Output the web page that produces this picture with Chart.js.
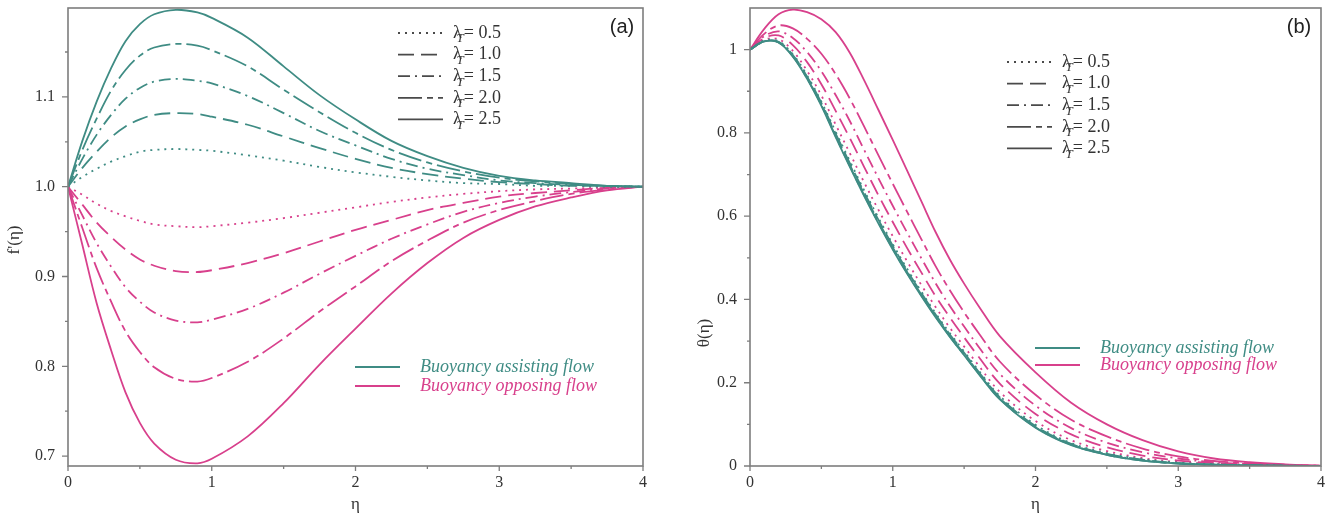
<!DOCTYPE html>
<html>
<head>
<meta charset="utf-8">
<script src="https://cdn.jsdelivr.net/npm/chart.js@4.4.1/dist/chart.umd.min.js"></script>
<style>
  html, body { margin: 0; padding: 0; background: #fff; }
  #wrap { position: relative; width: 1330px; height: 516px; }
  .panel { position: absolute; top: 0; height: 516px; }
  #pa { left: 0; width: 665px; }
  #pb { left: 680px; width: 650px; }
</style>
</head>
<body>
<div id="wrap">
  <div class="panel" id="pa"><canvas id="chartA"></canvas></div>
  <div class="panel" id="pb"><canvas id="chartB"></canvas></div>
</div>
<script>
// ---- data ----
const lambdaT = ['0.5', '1.0', '1.5', '2.0', '2.5'];
const xTicks = [0, 1, 2, 3, 4];
const yTicksA = [0.7, 0.8, 0.9, 1.0, 1.1];
const yTicksB = [0, 0.2, 0.4, 0.6, 0.8, 1];

// (a) f'(eta)
const etaA = [0, 0.1, 0.2, 0.3, 0.4, 0.5, 0.6, 0.75, 0.9, 1.0, 1.25, 1.5, 1.75, 2.0, 2.25, 2.5, 2.75, 3.0, 3.25, 3.5, 3.75, 4.0];
const fpAssist05 = [1, 1.011, 1.020, 1.028, 1.034, 1.039, 1.041, 1.042, 1.041, 1.040, 1.035, 1.029, 1.022, 1.016, 1.011, 1.007, 1.004, 1.003, 1.001, 1.001, 1.000, 1];
const fpAssist10 = [1, 1.021, 1.039, 1.055, 1.067, 1.075, 1.080, 1.082, 1.081, 1.078, 1.069, 1.056, 1.043, 1.031, 1.021, 1.014, 1.009, 1.005, 1.003, 1.001, 1.001, 1];
const fpAssist15 = [1, 1.031, 1.058, 1.080, 1.098, 1.110, 1.117, 1.120, 1.118, 1.115, 1.101, 1.082, 1.062, 1.046, 1.031, 1.020, 1.013, 1.007, 1.004, 1.002, 1.001, 1];
const fpAssist20 = [1, 1.041, 1.076, 1.107, 1.130, 1.146, 1.155, 1.159, 1.157, 1.152, 1.134, 1.108, 1.083, 1.060, 1.041, 1.027, 1.017, 1.010, 1.006, 1.003, 1.001, 1];
const fpAssist25 = [1, 1.051, 1.095, 1.132, 1.162, 1.181, 1.192, 1.197, 1.194, 1.188, 1.166, 1.134, 1.102, 1.075, 1.051, 1.034, 1.021, 1.012, 1.007, 1.004, 1.001, 1];
const fpOppose05 = [1, 0.991, 0.981, 0.973, 0.967, 0.962, 0.958, 0.956, 0.955, 0.956, 0.960, 0.965, 0.971, 0.977, 0.983, 0.988, 0.992, 0.995, 0.997, 0.998, 0.999, 1];
const fpOppose10 = [1, 0.980, 0.960, 0.944, 0.930, 0.919, 0.912, 0.906, 0.905, 0.907, 0.915, 0.926, 0.939, 0.952, 0.963, 0.974, 0.982, 0.989, 0.993, 0.996, 0.999, 1];
const fpOppose15 = [1, 0.968, 0.937, 0.911, 0.888, 0.872, 0.860, 0.851, 0.849, 0.852, 0.864, 0.882, 0.903, 0.923, 0.942, 0.958, 0.972, 0.982, 0.989, 0.994, 0.998, 1];
const fpOppose20 = [1, 0.954, 0.909, 0.872, 0.839, 0.816, 0.799, 0.786, 0.783, 0.787, 0.805, 0.831, 0.861, 0.889, 0.917, 0.940, 0.960, 0.974, 0.984, 0.992, 0.997, 1];
const fpOppose25 = [1, 0.935, 0.870, 0.818, 0.771, 0.737, 0.714, 0.696, 0.692, 0.697, 0.722, 0.759, 0.802, 0.842, 0.881, 0.915, 0.943, 0.963, 0.978, 0.988, 0.996, 1];

// (b) theta(eta)
const etaB = [0, 0.1, 0.2, 0.3, 0.4, 0.5, 0.6, 0.7, 0.8, 0.9, 1.0, 1.1, 1.2, 1.3, 1.4, 1.5, 1.6, 1.75, 2.0, 2.25, 2.5, 2.75, 3.0, 3.25, 3.5, 3.75, 4.0];
const thAssist05 = [1, 1.022, 1.020, 0.989, 0.938, 0.875, 0.803, 0.732, 0.662, 0.596, 0.533, 0.474, 0.419, 0.367, 0.319, 0.275, 0.230, 0.168, 0.099, 0.055, 0.031, 0.016, 0.008, 0.004, 0.002, 0.001, 0];
const thAssist10 = [1, 1.021, 1.019, 0.987, 0.935, 0.872, 0.798, 0.727, 0.657, 0.591, 0.529, 0.470, 0.416, 0.364, 0.316, 0.272, 0.227, 0.165, 0.096, 0.053, 0.029, 0.015, 0.007, 0.0035, 0.0018, 0.0007, 0];
const thAssist15 = [1, 1.020, 1.018, 0.985, 0.933, 0.869, 0.795, 0.723, 0.653, 0.587, 0.525, 0.466, 0.412, 0.361, 0.313, 0.269, 0.225, 0.163, 0.094, 0.052, 0.028, 0.014, 0.0065, 0.0032, 0.0016, 0.0006, 0];
const thAssist20 = [1, 1.020, 1.017, 0.984, 0.931, 0.867, 0.792, 0.720, 0.650, 0.584, 0.522, 0.464, 0.410, 0.359, 0.311, 0.267, 0.223, 0.161, 0.093, 0.051, 0.027, 0.013, 0.006, 0.003, 0.0015, 0.0005, 0];
const thAssist25 = [1, 1.020, 1.017, 0.983, 0.930, 0.865, 0.790, 0.718, 0.648, 0.582, 0.520, 0.462, 0.408, 0.357, 0.310, 0.266, 0.222, 0.160, 0.092, 0.050, 0.027, 0.013, 0.006, 0.003, 0.0015, 0.0005, 0];
const thOppose05 = [1, 1.024, 1.025, 0.997, 0.949, 0.890, 0.820, 0.751, 0.681, 0.615, 0.552, 0.492, 0.435, 0.382, 0.332, 0.287, 0.242, 0.178, 0.108, 0.062, 0.036, 0.019, 0.0095, 0.005, 0.0025, 0.001, 0.0001];
const thOppose10 = [1, 1.028, 1.034, 1.011, 0.970, 0.917, 0.853, 0.787, 0.718, 0.650, 0.586, 0.524, 0.465, 0.408, 0.357, 0.309, 0.263, 0.198, 0.125, 0.076, 0.045, 0.025, 0.013, 0.007, 0.0035, 0.0014, 0.0003];
const thOppose15 = [1, 1.032, 1.044, 1.028, 0.994, 0.948, 0.891, 0.828, 0.759, 0.691, 0.625, 0.561, 0.499, 0.439, 0.384, 0.335, 0.287, 0.221, 0.145, 0.091, 0.056, 0.033, 0.018, 0.009, 0.0045, 0.002, 0.0004];
const thOppose20 = [1, 1.038, 1.058, 1.051, 1.026, 0.990, 0.941, 0.882, 0.815, 0.746, 0.678, 0.611, 0.545, 0.480, 0.422, 0.369, 0.320, 0.251, 0.171, 0.111, 0.071, 0.042, 0.023, 0.012, 0.006, 0.0025, 0.0006];
const thOppose25 = [1, 1.050, 1.085, 1.096, 1.090, 1.073, 1.042, 0.992, 0.926, 0.855, 0.783, 0.710, 0.636, 0.562, 0.496, 0.438, 0.385, 0.312, 0.225, 0.152, 0.100, 0.062, 0.035, 0.018, 0.009, 0.004, 0.001];

// ---- styling ----
const TEAL = '#3f8c84';
const PINK = '#d8408c';
const AXIS = '#7d7d7d';
const dashFor = { '0.5': [2, 5], '1.0': [16, 7], '1.5': [12, 5, 2, 5], '2.0': [24, 5, 6, 5], '2.5': [] };
const serif = '"Liberation Serif", "DejaVu Serif", serif';

function series(eta, vals, color, lam) {
  return {
    data: eta.map((x, i) => ({ x: x, y: vals[i] })),
    borderColor: color,
    borderWidth: 1.8,
    borderDash: dashFor[lam],
    pointRadius: 0,
    fill: false,
    tension: 0.35
  };
}

function noPad(s) {
  s.paddingTop = 0; s.paddingBottom = 0; s.paddingLeft = 0; s.paddingRight = 0;
}

// frame, minor ticks, legends, titles
const decor = {
  id: 'decor',
  afterDraw(chart, args, o) {
    const { ctx, chartArea: a, scales: { x, y } } = chart;
    ctx.save();
    ctx.strokeStyle = AXIS;
    ctx.lineWidth = 1.6;
    ctx.strokeRect(a.left, a.top, a.right - a.left, a.bottom - a.top);
    ctx.lineWidth = 1.3;
    ctx.beginPath();
    o.yMajor.forEach(v => { const p = y.getPixelForValue(v); ctx.moveTo(a.left - 6, p); ctx.lineTo(a.left, p); });
    o.yMinor.forEach(v => { const p = y.getPixelForValue(v); ctx.moveTo(a.left - 3, p); ctx.lineTo(a.left, p); });
    xTicks.forEach(v => { const p = x.getPixelForValue(v); ctx.moveTo(p, a.bottom); ctx.lineTo(p, a.bottom + 5); });
    [0.5, 1.5, 2.5, 3.5].forEach(v => { const p = x.getPixelForValue(v); ctx.moveTo(p, a.bottom); ctx.lineTo(p, a.bottom + 3); });
    ctx.stroke();

    // axis titles
    ctx.fillStyle = '#333';
    ctx.textAlign = 'center';
    ctx.textBaseline = 'middle';
    ctx.font = '17px ' + serif;
    ctx.fillText('η', (a.left + a.right) / 2, 505);
    ctx.save();
    ctx.translate(o.yTitle[0], o.yTitle[1]);
    ctx.rotate(-Math.PI / 2);
    ctx.fillText(o.yTitleText, 0, 0);
    ctx.restore();

    // panel letter
    ctx.font = '20px "Liberation Sans", Arial, sans-serif';
    ctx.fillStyle = '#222';
    ctx.fillText(o.letter, o.letterPos[0], o.letterPos[1]);

    // lambda legend
    ctx.textAlign = 'left';
    lambdaT.forEach((lam, i) => {
      const ry = o.lamY + i * 21.6;
      ctx.strokeStyle = '#4a4a4a';
      ctx.lineWidth = 1.8;
      ctx.setLineDash(dashFor[lam]);
      ctx.beginPath();
      ctx.moveTo(o.lamX, ry);
      ctx.lineTo(o.lamX + 45, ry);
      ctx.stroke();
      ctx.setLineDash([]);
      const tx = o.lamX + 55;
      ctx.fillStyle = '#333';
      ctx.font = '18px ' + serif;
      ctx.fillText('λ', tx, ry);
      const lw = ctx.measureText('λ').width;
      ctx.font = 'italic 13px ' + serif;
      ctx.fillText('T', tx + lw * 0.4, ry + 6);
      ctx.font = '18px ' + serif;
      ctx.fillText('= ' + lam, tx + lw + 2, ry);
    });

    // flow legend
    [['Buoyancy assisting flow', TEAL], ['Buoyancy opposing flow', PINK]].forEach((it, i) => {
      const ry = o.flowY[i];
      ctx.strokeStyle = it[1];
      ctx.lineWidth = 1.8;
      ctx.beginPath();
      ctx.moveTo(355, ry);
      ctx.lineTo(400, ry);
      ctx.stroke();
      ctx.fillStyle = it[1];
      ctx.font = 'italic 18px ' + serif;
      ctx.fillText(it[0], 420, ry);
    });
    ctx.restore();
  }
};

function makeChart(id, eta, assist, oppose, yMin, yMax, yTicks, fmt, yWidth, padRight, deco) {
  const ds = [];
  lambdaT.forEach((lam, i) => ds.push(series(eta, assist[i], TEAL, lam)));
  lambdaT.forEach((lam, i) => ds.push(series(eta, oppose[i], PINK, lam)));
  return new Chart(document.getElementById(id), {
    type: 'line',
    data: { datasets: ds },
    options: {
      responsive: true,
      maintainAspectRatio: false,
      animation: false,
      layout: { padding: { top: 8, right: padRight, bottom: 0, left: 0 } },
      plugins: { legend: { display: false }, tooltip: { enabled: false }, decor: deco },
      scales: {
        x: {
          type: 'linear', min: 0, max: 4,
          afterFit: s => { s.height = 50; noPad(s); },
          afterBuildTicks: s => { s.ticks = xTicks.map(v => ({ value: v })); },
          grid: { display: false, drawTicks: false },
          border: { display: false },
          ticks: { padding: 7, color: '#333', font: { family: serif, size: 16 }, maxRotation: 0, callback: v => String(v) }
        },
        y: {
          type: 'linear', min: yMin, max: yMax,
          afterFit: s => { s.width = yWidth; noPad(s); },
          afterBuildTicks: s => { s.ticks = yTicks.map(v => ({ value: v })); },
          grid: { display: false, drawTicks: false },
          border: { display: false },
          ticks: { padding: 13, color: '#333', font: { family: serif, size: 16 }, callback: fmt }
        }
      }
    },
    plugins: [decor]
  });
}

makeChart('chartA', etaA,
  [fpAssist05, fpAssist10, fpAssist15, fpAssist20, fpAssist25],
  [fpOppose05, fpOppose10, fpOppose15, fpOppose20, fpOppose25],
  0.689, 1.199, yTicksA, v => v.toFixed(1), 68, 22,
  {
    yMajor: yTicksA, yMinor: [0.75, 0.85, 0.95, 1.05, 1.15],
    yTitle: [15, 240], yTitleText: "f'(η)",
    letter: '(a)', letterPos: [622, 27],
    lamX: 398, lamY: 33, flowY: [367, 386]
  });

makeChart('chartB', etaB,
  [thAssist05, thAssist10, thAssist15, thAssist20, thAssist25],
  [thOppose05, thOppose10, thOppose15, thOppose20, thOppose25],
  0, 1.1, yTicksB, v => String(v), 70, 9,
  {
    yMajor: yTicksB, yMinor: [0.1, 0.3, 0.5, 0.7, 0.9],
    yTitle: [25, 333], yTitleText: 'θ(η)',
    letter: '(b)', letterPos: [619, 27],
    lamX: 327, lamY: 62, flowY: [348, 365]
  });
</script>
</body>
</html>
